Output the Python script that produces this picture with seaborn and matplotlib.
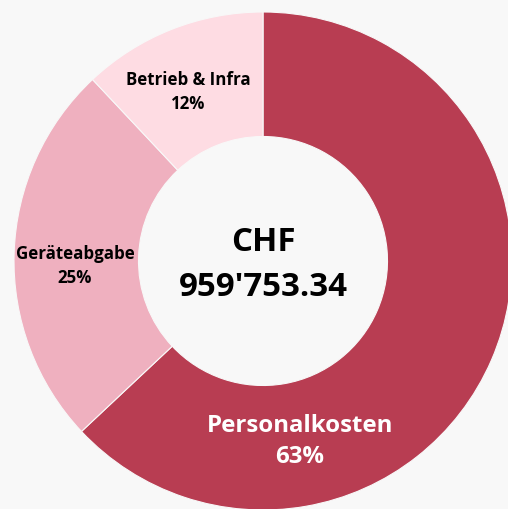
import numpy as np
import matplotlib
matplotlib.use("Agg")
import matplotlib.pyplot as plt
import seaborn as sns

categories = ["Personalkosten", "Geräteabgabe", "Betrieb & Infra"]
shares = [63, 25, 12]
colors = ["#b83d52", "#efb0bf", "#fedce3"]
label_colors = ["white", "black", "black"]
total_label = "CHF\n959'753.34"

sns.set_theme(style="white")
plt.rcParams["font.family"] = ["Open Sans", "DejaVu Sans"]
bg = "#f8f8f8"

fig = plt.figure(figsize=(5.08, 5.09), dpi=100, facecolor=bg)
ax = fig.add_axes([0, 0, 1, 1])
ax.set_facecolor(bg)

wedges, _ = ax.pie(shares, colors=colors, startangle=90, counterclock=False,
                   radius=1, wedgeprops=dict(width=0.5, edgecolor=bg, linewidth=0.8))

R = 249.0  # pie radius in pixels
cx, cy = 263.0, 261.0  # pie centre in pixels (from top-left)
ax.set_xlim(-cx / R, (508 - cx) / R)
ax.set_ylim(-(509 - cy) / R, cy / R)
ax.set_aspect("equal")
ax.axis("off")

# label placement on the ring (angle in degrees, radius as fraction)
label_pos = [(-78.4, 0.74), (181.5, 0.755), (113.9, 0.743)]
sizes = [17.3, 12.2, 12.2]
for i, (cat, val) in enumerate(zip(categories, shares)):
    a, r = label_pos[i]
    ang = np.deg2rad(a)
    ax.text(r * np.cos(ang), r * np.sin(ang), f"{cat}\n{val}%", ha="center", va="center",
            fontsize=sizes[i], fontweight="bold", color=label_colors[i], linespacing=1.4)

ax.text(0, -0.018, total_label, ha="center", va="center", fontsize=23.8,
        fontweight="bold", color="black", linespacing=1.48)

fig.savefig("out.png", dpi=100, facecolor=bg)
